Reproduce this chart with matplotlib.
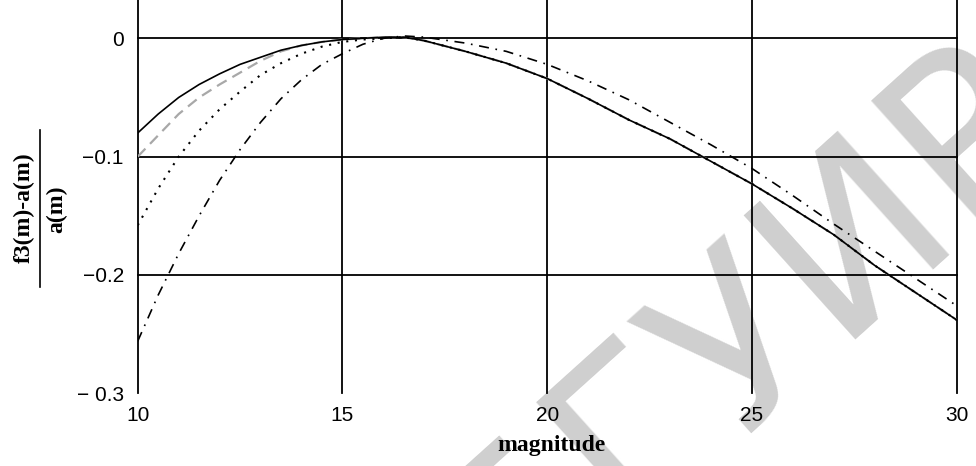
import matplotlib
matplotlib.use("Agg")
import matplotlib.pyplot as plt
from matplotlib.lines import Line2D

# ---------------- data ----------------
magnitude = [10, 10.5, 11, 11.5, 12, 12.5, 13, 13.5, 14, 14.5, 15, 15.5, 16, 16.5,
             17, 18, 19, 20, 21, 22, 23, 24, 25, 26, 27, 28, 29, 30]

solid_curve = [-0.080, -0.064, -0.050, -0.039, -0.030, -0.022, -0.016, -0.010, -0.006,
               -0.003, -0.001, 0.000, 0.001, 0.001, -0.002, -0.011, -0.021, -0.034,
               -0.051, -0.069, -0.085, -0.104, -0.123, -0.144, -0.166, -0.192, -0.215, -0.238]

gray_dashed_curve = [-0.100, -0.082, -0.064, -0.050, -0.039, -0.029, -0.019, -0.011, -0.006,
                     -0.003, -0.001, 0.000, 0.001, 0.001, -0.002, -0.011, -0.021, -0.034,
                     -0.051, -0.069, -0.085, -0.104, -0.123, -0.144, -0.166, -0.192, -0.215, -0.238]

dotted_curve = [-0.158, -0.127, -0.100, -0.078, -0.060, -0.045, -0.031, -0.021, -0.013,
                -0.007, -0.003, -0.001, 0.000, 0.001, -0.002, -0.011, -0.021, -0.034,
                -0.051, -0.069, -0.085, -0.104, -0.123, -0.144, -0.166, -0.192, -0.215, -0.238]

dashdot_curve = [-0.256, -0.217, -0.182, -0.150, -0.120, -0.094, -0.071, -0.051, -0.035,
                 -0.022, -0.013, -0.005, 0.000, 0.002, 0.001, -0.004, -0.011, -0.022,
                 -0.036, -0.052, -0.071, -0.090, -0.110, -0.133, -0.157, -0.180, -0.203, -0.226]

x_ticks = [10, 15, 20, 25, 30]
x_tick_labels = ["10", "15", "20", "25", "30"]
y_ticks = [0, -0.1, -0.2, -0.3]
y_tick_labels = ["0", "\u22120.1", "\u22120.2", "\u2212 0.3"]

x_label = "magnitude"
y_label_num = "f3(m)-a(m)"
y_label_den = "a(m)"
watermark = "БГУИР"

# ---------------- figure ----------------
W, H = 976, 466
fig = plt.figure(figsize=(W / 100, H / 100), dpi=100)
fig.patch.set_facecolor("white")


def fx(px):
    return px / W


def fy(py):
    return 1 - py / H


ax_left, ax_right, ax_bottom = 137.7, 956.7, 393.3
ax = fig.add_axes([fx(ax_left), fy(ax_bottom), (ax_right - ax_left) / W, ax_bottom / H])
ax.set_facecolor("none")

# watermark (light grey diagonal text), behind everything
fig.text(fx(745), fy(335), watermark, rotation=42, fontsize=165, color="#cfcfcf",
         ha="center", va="center", family="DejaVu Sans", zorder=-5)

ax.plot(magnitude, solid_curve, color="black", lw=1.2, zorder=4)
ax.plot(magnitude, gray_dashed_curve, color="#a8a8a8", lw=1.6, linestyle=(0, (5, 3)), zorder=3)
ax.plot(magnitude, dotted_curve, color="black", lw=1.5, linestyle=(0, (1, 3.2)), zorder=5)
ax.plot(magnitude, dashdot_curve, color="black", lw=1.2, linestyle=(0, (6, 4, 1, 4)), zorder=5)

ax.set_xlim(10, 30)
ax.set_ylim(-0.3, 0.0324)
for s in ax.spines.values():
    s.set_visible(False)

ax.set_xticks(x_ticks)
ax.set_xticklabels(x_tick_labels, family="Liberation Sans", fontsize=15)
ax.set_yticks(y_ticks)
ax.set_yticklabels(y_tick_labels, family="Liberation Sans", fontsize=15)
ax.tick_params(axis="both", length=0, colors="black")
ax.tick_params(axis="x", pad=9)
ax.tick_params(axis="y", pad=10)

ax.grid(True, color="black", lw=1.3)
ax.set_axisbelow(True)
for gl in ax.get_xgridlines() + ax.get_ygridlines():
    gl.set_clip_on(False)
ax.get_ygridlines()[3].set_visible(False)

# axis labels
fig.text(fx(551), fy(446), x_label, family="Liberation Serif", fontweight="bold",
         fontsize=17, ha="center", va="center")
fig.text(fx(24), fy(208), y_label_num, family="Liberation Serif", fontweight="bold",
         fontsize=17, rotation=90, ha="center", va="center")
fig.text(fx(57), fy(209), y_label_den, family="Liberation Serif", fontweight="bold",
         fontsize=17, rotation=90, ha="center", va="center")
fig.add_artist(Line2D([fx(39.5), fx(39.5)], [fy(130), fy(287)], color="black", lw=1.2))

fig.savefig("out.png", dpi=100, facecolor="white")
